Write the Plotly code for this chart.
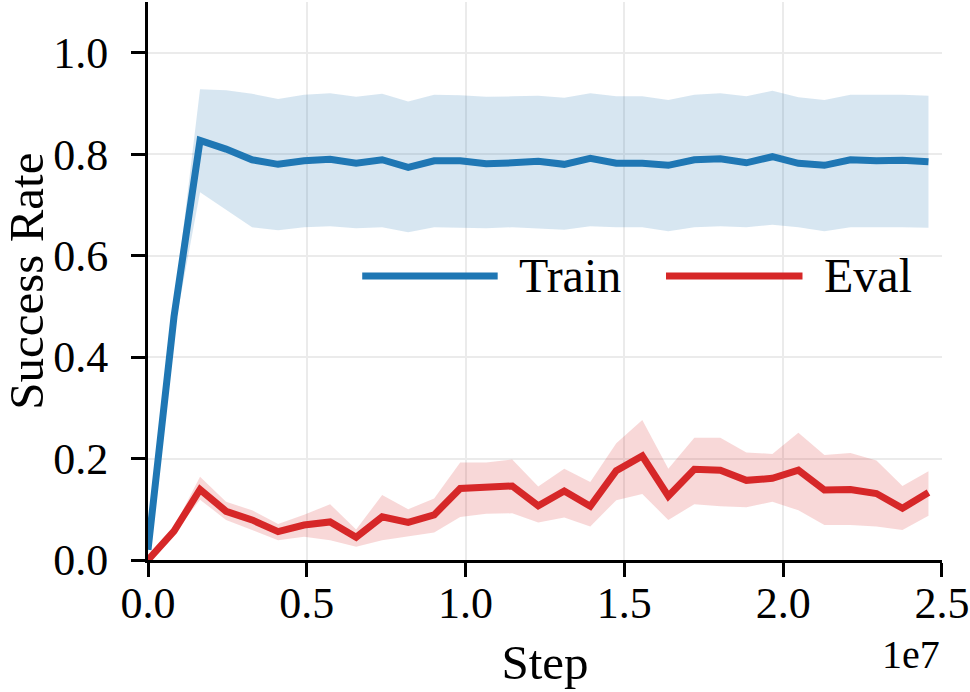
import plotly.graph_objects as go

FONT = "Liberation Serif"

steps = [0, 819200, 1638400, 2457600, 3276800, 4096000, 4915200, 5734400,
         6553600, 7372800, 8192000, 9011200, 9830400, 10649600, 11468800,
         12288000, 13107200, 13926400, 14745600, 15564800, 16384000,
         17203200, 18022400, 18841600, 19660800, 20480000, 21299200,
         22118400, 22937600, 23756800, 24576000]

train_mean = [0.02, 0.48, 0.827, 0.810, 0.789, 0.780, 0.787, 0.790, 0.782, 0.789,
              0.774, 0.787, 0.787, 0.781, 0.783, 0.786, 0.780, 0.792, 0.782, 0.782,
              0.778, 0.789, 0.791, 0.783, 0.795, 0.782, 0.778, 0.789, 0.787, 0.788,
              0.785]
train_hi = [0.03, 0.50, 0.928, 0.926, 0.919, 0.909, 0.917, 0.920, 0.913, 0.919,
            0.904, 0.917, 0.916, 0.913, 0.914, 0.915, 0.911, 0.920, 0.914, 0.914,
            0.907, 0.917, 0.920, 0.914, 0.925, 0.912, 0.907, 0.917, 0.917, 0.917,
            0.915]
train_lo = [0.01, 0.45, 0.725, 0.691, 0.656, 0.650, 0.656, 0.658, 0.654, 0.656,
            0.646, 0.656, 0.655, 0.654, 0.656, 0.654, 0.651, 0.658, 0.656, 0.656,
            0.648, 0.656, 0.658, 0.656, 0.661, 0.656, 0.648, 0.656, 0.656, 0.656,
            0.655]

eval_mean = [0.0, 0.057, 0.139, 0.096, 0.079, 0.056, 0.069, 0.075, 0.045, 0.085,
             0.074, 0.089, 0.141, 0.143, 0.146, 0.107, 0.136, 0.106, 0.176, 0.205,
             0.126, 0.179, 0.177, 0.157, 0.161, 0.177, 0.138, 0.139, 0.131, 0.102,
             0.133]
eval_hi = [0.0, 0.065, 0.164, 0.115, 0.098, 0.071, 0.089, 0.110, 0.060, 0.128,
           0.100, 0.121, 0.192, 0.192, 0.198, 0.145, 0.180, 0.154, 0.230, 0.276,
           0.180, 0.241, 0.241, 0.212, 0.209, 0.251, 0.207, 0.211, 0.196, 0.146,
           0.175]
eval_lo = [0.0, 0.052, 0.119, 0.079, 0.059, 0.039, 0.046, 0.039, 0.026, 0.039,
           0.047, 0.054, 0.085, 0.091, 0.092, 0.074, 0.084, 0.066, 0.118, 0.130,
           0.079, 0.110, 0.106, 0.104, 0.115, 0.098, 0.069, 0.069, 0.066, 0.059,
           0.087]

x_tickvals = [0, 5e6, 1e7, 1.5e7, 2e7, 2.5e7]
x_ticktext = ["0.0", "0.5", "1.0", "1.5", "2.0", "2.5"]
y_tickvals = [0.0, 0.2, 0.4, 0.6, 0.8, 1.0]
y_ticktext = ["0.0", "0.2", "0.4", "0.6", "0.8", "1.0"]

series = [
    ("Train", train_mean, train_lo, train_hi, "#1f77b4", "rgba(31,119,180,0.18)"),
    ("Eval", eval_mean, eval_lo, eval_hi, "#d62728", "rgba(214,39,40,0.18)"),
]

fig = go.Figure()
for name, m, lo, hi, col, fcol in series:
    fig.add_trace(go.Scatter(
        x=steps + steps[::-1], y=hi + lo[::-1], fill="toself", fillcolor=fcol,
        line=dict(width=0), mode="lines", hoverinfo="skip", showlegend=False))
    fig.add_trace(go.Scatter(
        x=steps, y=m, mode="lines", name=name, showlegend=False,
        line=dict(color=col, width=7)))

axis_common = dict(
    showline=True, linecolor="black", linewidth=3, mirror=False,
    ticks="outside", ticklen=14, tickwidth=3, tickcolor="black",
    showgrid=True, gridcolor="#ebebeb", gridwidth=1.5, zeroline=False,
    tickfont=dict(family=FONT, size=44, color="black"),
    automargin=False, ticklabeloverflow="allow",
)

fig.update_layout(
    width=970, height=692,
    margin=dict(l=148, r=28, t=2, b=132),
    plot_bgcolor="white", paper_bgcolor="white",
    font=dict(family=FONT, color="black"),
    xaxis=dict(range=[0, 2.5002e7], tickvals=x_tickvals, ticktext=x_ticktext,
               title=dict(text="Step", font=dict(family=FONT, size=49), standoff=18),
               ticklabelstandoff=-12, **axis_common),
    yaxis=dict(range=[0, 1.1], tickvals=y_tickvals, ticktext=y_ticktext,
               ticklabelstandoff=14, **axis_common),
)

# y-axis title placed left of the tick labels
fig.add_annotation(xref="paper", yref="paper", x=-0.154, y=0.5, text="Success Rate",
                   textangle=-90, showarrow=False, xanchor="center", yanchor="middle",
                   font=dict(family=FONT, size=49, color="black"))

# custom legend (long line samples as in the reference)
legend_items = [("Train", "#1f77b4", 0.2698, 0.4404, 0.4642),
                ("Eval", "#d62728", 0.6524, 0.8243, 0.8494)]
ly = 0.509
for name, col, x0, x1, tx in legend_items:
    fig.add_shape(type="line", xref="paper", yref="paper", x0=x0, x1=x1, y0=ly, y1=ly,
                  line=dict(color=col, width=7))
    fig.add_annotation(xref="paper", yref="paper", x=tx, y=ly, text=name,
                       showarrow=False, xanchor="left", yanchor="middle",
                       font=dict(family=FONT, size=48, color="black"))

fig.add_annotation(xref="paper", yref="paper", x=1.0, y=-0.17, text="1e7",
                   showarrow=False, xanchor="right", yanchor="middle",
                   font=dict(family=FONT, size=40, color="black"))

fig.write_html("out.html")
